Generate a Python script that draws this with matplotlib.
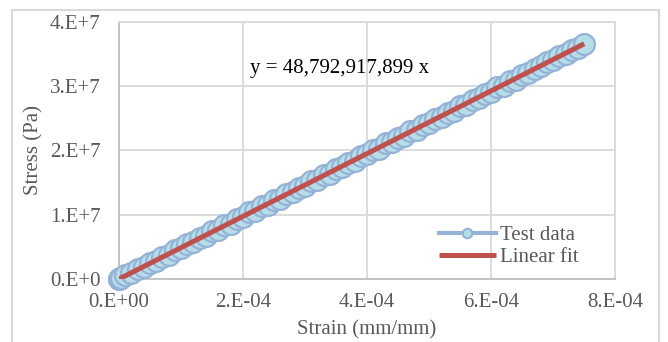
import numpy as np
import matplotlib
matplotlib.use('Agg')
import matplotlib.pyplot as plt
from matplotlib.patches import Rectangle

plt.rcParams['font.family'] = ['Liberation Serif', 'DejaVu Serif']

# test data (strain in 1e-4 mm/mm, stress in MPa)
strain = np.array([0.0, 0.0, 0.01, 0.03,
                   0.1, 0.2, 0.3, 0.4, 0.5, 0.6, 0.7, 0.8, 0.9, 1.0,
                   1.1, 1.2, 1.3, 1.4, 1.5, 1.6, 1.7, 1.8, 1.9, 2.0,
                   2.1, 2.2, 2.3, 2.4, 2.5, 2.6, 2.7, 2.8, 2.9, 3.0,
                   3.1, 3.2, 3.3, 3.4, 3.5, 3.6, 3.7, 3.8, 3.9, 4.0,
                   4.1, 4.2, 4.3, 4.4, 4.5, 4.6, 4.7, 4.8, 4.9, 5.0,
                   5.1, 5.2, 5.3, 5.4, 5.5, 5.6, 5.7, 5.8, 5.9, 6.0,
                   6.1, 6.2, 6.3, 6.4, 6.5, 6.6, 6.7, 6.8, 6.9, 7.0,
                   7.1, 7.2, 7.3, 7.4, 7.5]) * 1e-4
stress = np.array([0.0, 0.05, 0.1, 0.2,
                   0.6, 0.9, 1.6, 1.9, 2.5, 2.8, 3.5, 3.8, 4.5, 4.8,
                   5.5, 5.7, 6.4, 6.7, 7.4, 7.7, 8.4, 8.6, 9.4, 9.6,
                   10.4, 10.6, 11.3, 11.5, 12.3, 12.5, 13.3, 13.5, 14.2, 14.5,
                   15.2, 15.4, 16.2, 16.4, 17.1, 17.4, 18.1, 18.4, 19.1, 19.4,
                   20.1, 20.3, 21.1, 21.3, 22.0, 22.3, 23.0, 23.2, 24.0, 24.3,
                   24.9, 25.2, 25.9, 26.2, 26.9, 27.1, 27.9, 28.1, 28.8, 29.1,
                   29.8, 30.1, 30.8, 31.0, 31.8, 32.0, 32.7, 33.1, 33.7, 34.0,
                   34.7, 35.0, 35.6, 36.0, 36.5]) * 1e6

slope = 48792917899
fit_x = np.array([0.0, 7.5e-4])

xticks = [0, 2e-4, 4e-4, 6e-4, 8e-4]
xtick_labels = ['0.E+00', '2.E-04', '4.E-04', '6.E-04', '8.E-04']
yticks = [0, 1e7, 2e7, 3e7, 4e7]
ytick_labels = ['0.E+0', '1.E+7', '2.E+7', '3.E+7', '4.E+7']

grey = '#595959'
gridc = '#D9D9D9'

fig = plt.figure(figsize=(6.68, 3.42), dpi=100)
ax = fig.add_axes([0.178, 0.184, 0.743, 0.752])

ax.plot(strain, stress, '-o', color='#95B3D7', lw=3, ms=15,
        mfc='#B7DDE8', mec='#95B3D7', mew=1.6, label='Test data', zorder=3,
        clip_on=False)
ax.plot(fit_x, slope * fit_x, '-', color='#C0504D', lw=3.6,
        label='Linear fit', zorder=4, solid_capstyle='butt')

ax.set_xlim(0, 8e-4)
ax.set_ylim(0, 4e7)
ax.set_xticks(xticks)
ax.set_xticklabels(xtick_labels)
ax.set_yticks(yticks)
ax.set_yticklabels(ytick_labels)
ax.tick_params(length=0, labelsize=15, labelcolor=grey)
ax.tick_params(axis='y', pad=13)
ax.tick_params(axis='x', pad=10)
ax.grid(True, color=gridc, lw=1.3, zorder=0)
ax.set_axisbelow(True)
for name, s in ax.spines.items():
    s.set_color('#BFBFBF' if name in ('left', 'bottom') else gridc)
    s.set_linewidth(1.3)

ax.set_xlabel('Strain (mm/mm)', fontsize=15, color=grey, labelpad=6)
ax.set_ylabel('Stress (Pa)', fontsize=15, color=grey, labelpad=5)

ax.text(0.265, 0.82, 'y = 48,792,917,899 x', transform=ax.transAxes,
        fontsize=15, color='black', va='center')

ax.legend(loc='lower right', bbox_to_anchor=(0.955, -0.01), frameon=False,
          fontsize=15, labelcolor=grey, markerscale=0.45, handlelength=2.7,
          handletextpad=0.2, labelspacing=0.1, borderaxespad=0.3)

fig.patches.append(Rectangle((12 / 668, -0.05), 647 / 668, 1.05 - 10 / 342,
                             transform=fig.transFigure, fill=False,
                             edgecolor=gridc, lw=1.5))

fig.savefig('out.png', dpi=100)
